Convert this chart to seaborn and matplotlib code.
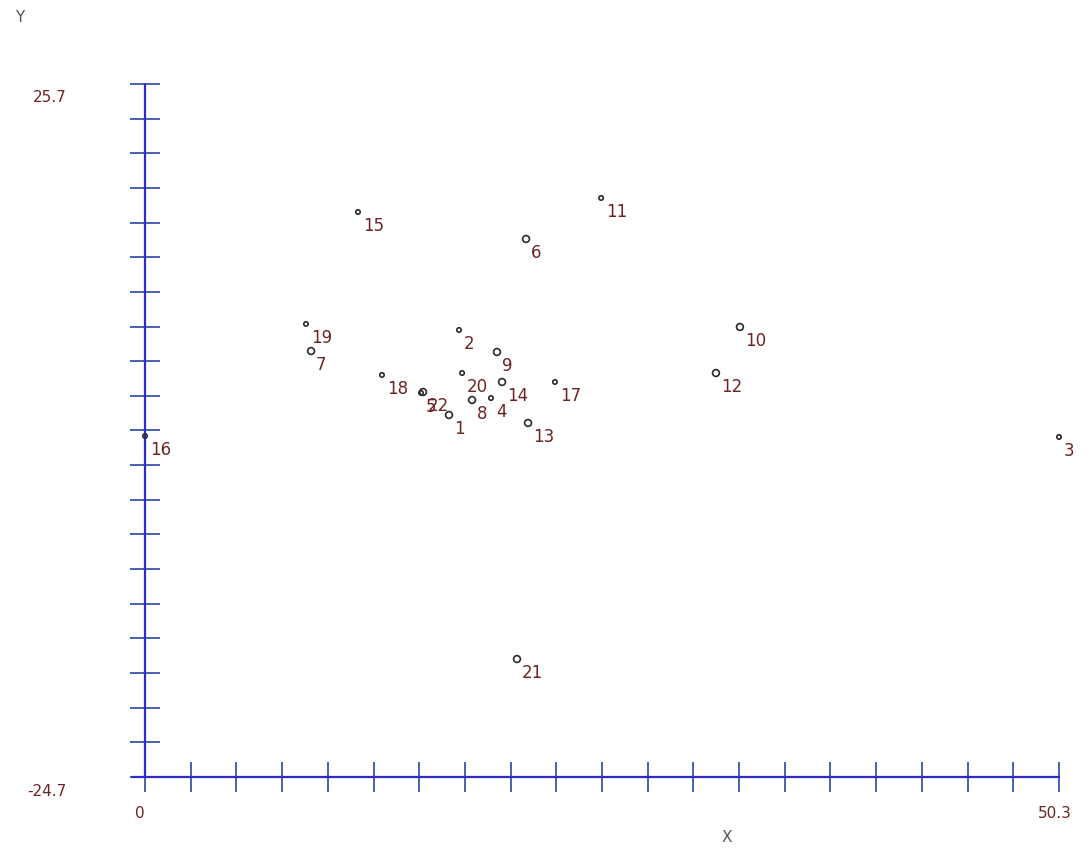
import numpy as np
import pandas as pd
import matplotlib
matplotlib.use("Agg")
import matplotlib.pyplot as plt
import seaborn as sns

# point data
ids = [str(i) for i in range(1, 23)]
xs = [16.73, 17.28, 50.3, 19.04, 15.19, 20.97, 9.14, 18.0, 19.37, 32.74, 25.10,
      31.42, 21.08, 19.65, 11.72, 0.0, 22.56, 13.04, 8.86, 17.45, 20.47, 15.30]
ys = [1.63, 7.81, 0.03, 2.86, 3.23, 14.43, 6.28, 2.72, 6.21, 8.03, 17.41,
      4.68, 1.05, 4.03, 16.39, 0.10, 4.03, 4.54, 8.25, 4.68, -16.12, 3.30]
kind = ['big', 'small', 'small', 'small', 'small', 'big', 'big', 'big', 'big', 'big', 'small',
        'big', 'big', 'big', 'small', 'small', 'small', 'small', 'small', 'small', 'big', 'big']

x_min, x_max = 0.0, 50.3
y_min, y_max = -24.7, 25.7

df = pd.DataFrame({'id': ids, 'x': xs, 'y': ys, 'kind': kind})

label_col = '#6e2323'
axis_col = '#2b2bd0'
tick_col = '#3a55a8'

sns.set_style('white')
plt.rcParams['font.family'] = ['DejaVu Sans']

W, H = 1092, 848
fig = plt.figure(figsize=(W / 100, H / 100), dpi=100)
ax = fig.add_axes([145 / W, (H - 777) / H, (1059 - 145) / W, (777 - 84) / H])

sns.scatterplot(data=df, x='x', y='y', size='kind', sizes={'big': 24, 'small': 10},
                marker='o', edgecolor='#2a2a2a', linewidth=1.2, legend=False,
                ax=ax, clip_on=False, zorder=5)
for coll in ax.collections:
    coll.set_facecolor('none')
    coll.set_edgecolor('#2a2a2a')

for _, r in df.iterrows():
    ax.annotate(r['id'], (r['x'], r['y']), xytext=(3.5, -3.5), textcoords='offset points',
                ha='left', va='top', fontsize=12, color=label_col)

ax.set_xlim(x_min, x_max)
ax.set_ylim(y_min, y_max)
for s in ['top', 'right', 'left', 'bottom']:
    ax.spines[s].set_visible(False)

# axis lines
ax.plot([x_min, x_min], [y_min, y_max], color=axis_col, lw=1.6, clip_on=False, zorder=3)
ax.plot([x_min - 0.7, x_max], [y_min, y_min], color=axis_col, lw=1.6, clip_on=False, zorder=3)

ax.set_xticks(np.linspace(x_min, x_max, 21))
ax.set_yticks(np.linspace(y_min, y_max, 21))
ax.set_xticklabels([])
ax.set_yticklabels([])
ax.tick_params(axis='both', direction='inout', length=22, width=1.3, color=tick_col,
               bottom=True, left=True, top=False, right=False)
ax.set_xlabel('')
ax.set_ylabel('')
ax.set_facecolor('none')

fig.text(33 / W, 1 - 97 / H, '25.7', fontsize=11, color=label_col, ha='left', va='center')
fig.text(27 / W, 1 - 792 / H, '-24.7', fontsize=11, color=label_col, ha='left', va='center')
fig.text(140 / W, 1 - 813 / H, '0', fontsize=11, color=label_col, ha='center', va='center')
fig.text(1055 / W, 1 - 813 / H, '50.3', fontsize=11, color=label_col, ha='center', va='center')
fig.text(20 / W, 1 - 18 / H, 'Y', fontsize=11, color='#555555', ha='center', va='center')
fig.text(727 / W, 1 - 837 / H, 'X', fontsize=11, color='#555555', ha='center', va='center')

fig.savefig('out.png', dpi=100, facecolor='white')
